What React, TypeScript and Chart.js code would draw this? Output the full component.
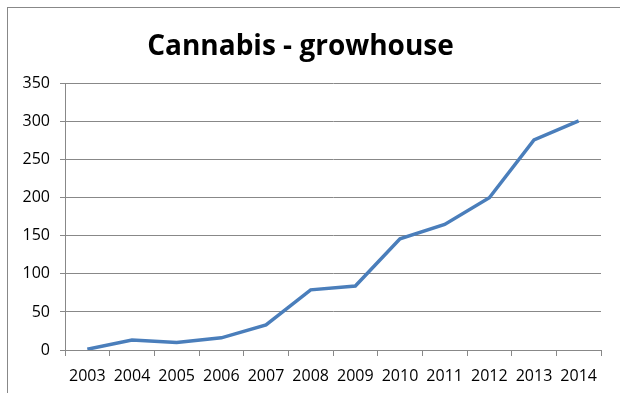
import React, { useEffect, useRef } from "react";
import { Chart, registerables } from "chart.js";

Chart.register(...registerables);

const years = ["2003", "2004", "2005", "2006", "2007", "2008", "2009", "2010", "2011", "2012", "2013", "2014"];
const growhouse = [1, 13, 10, 16, 33, 79, 84, 146, 165, 200, 276, 301];
const titleText = "Cannabis - growhouse";

export default function App() {
  const ref = useRef<HTMLCanvasElement | null>(null);
  useEffect(() => {
    if (!ref.current) return;
    const chart = new Chart(ref.current, {
      type: "line",
      data: {
        labels: years,
        datasets: [
          {
            data: growhouse,
            borderColor: "#4A7EBB",
            borderWidth: 3.5,
            pointRadius: 0,
            tension: 0,
            fill: false,
          },
        ],
      },
      options: {
        responsive: false,
        animation: false,
        layout: { padding: { left: 0, right: 19, top: 0, bottom: 0 } },
        plugins: {
          legend: { display: false },
          tooltip: { enabled: false },
          title: {
            display: true,
            text: titleText,
            color: "#000",
            font: { family: "'Open Sans', sans-serif", size: 28, weight: "bold" },
            padding: { top: 30, bottom: 20 },
          },
        },
        scales: {
          x: {
            offset: true,
            grid: { display: true, drawOnChartArea: false, offset: true, color: "#888", tickLength: 6 },
            border: { display: true, color: "#888" },
            ticks: { color: "#000", font: { family: "'Open Sans', sans-serif", size: 16 }, padding: 11, maxRotation: 0, autoSkip: false },
            afterFit: (s: any) => { s.height = 43; },
          },
          y: {
            min: 0,
            max: 350,
            grid: { color: "#888", tickLength: 5 },
            border: { display: true, color: "#888" },
            ticks: { stepSize: 50, color: "#000", font: { family: "'Open Sans', sans-serif", size: 16 }, padding: 10 },
            afterFit: (s: any) => { s.width = 65; },
          },
        },
      },
    });
    return () => chart.destroy();
  }, []);
  return (
    <div style={{ position: "fixed", left: 0, top: 0, width: 620, height: 393, background: "#fff" }}>
      <div style={{ position: "absolute", left: 7, top: 7, width: 700, height: 500, borderLeft: "1px solid #888", borderTop: "1px solid #888" }} />
      <canvas ref={ref} width={620} height={393} style={{ position: "absolute", left: 0, top: 0 }} />
    </div>
  );
}
